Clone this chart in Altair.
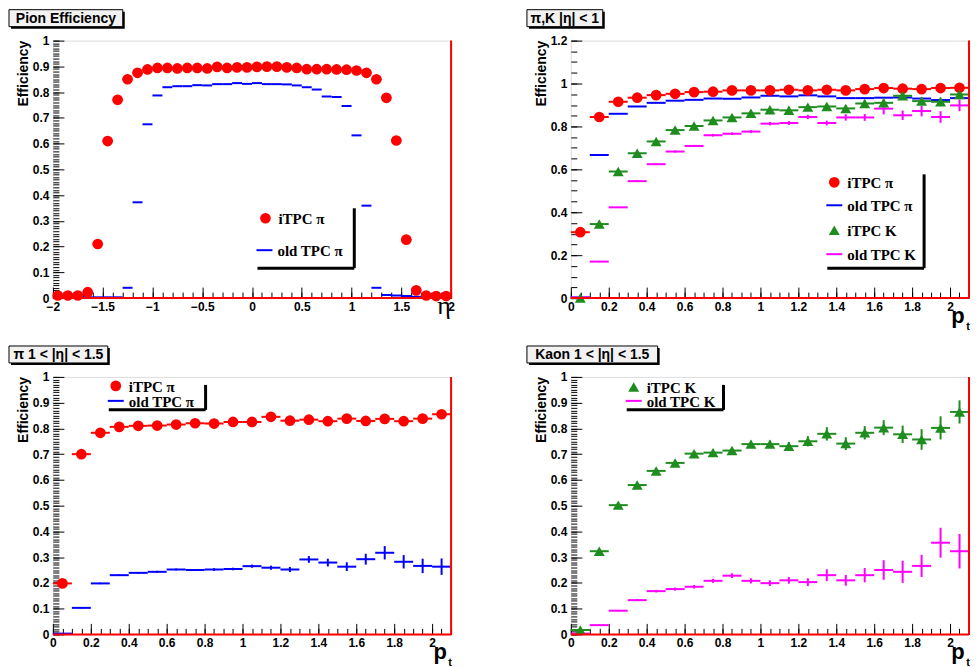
import altair as alt
import pandas as pd

FONT = "Liberation Sans"
SERIF = "Liberation Serif"
RED = "#ff0000"
BLUE = "#0000ff"
GREEN = "#1e8c1e"
MAGENTA = "#ff00ff"

# ---------------- data ----------------
eta = [-1.95, -1.85, -1.75, -1.65, -1.55, -1.45, -1.35, -1.25, -1.15, -1.05,
       -0.95, -0.85, -0.75, -0.65, -0.55, -0.45, -0.35, -0.25, -0.15, -0.05,
       0.05, 0.15, 0.25, 0.35, 0.45, 0.55, 0.65, 0.75, 0.85, 0.95,
       1.05, 1.15, 1.25, 1.35, 1.45, 1.55, 1.65, 1.75, 1.85, 1.95]
pt = [0.05, 0.15, 0.25, 0.35, 0.45, 0.55, 0.65, 0.75, 0.85, 0.95, 1.05,
      1.15, 1.25, 1.35, 1.45, 1.55, 1.65, 1.75, 1.85, 1.95, 2.05]

# Panel 1: pion efficiency vs eta
itpc_pi_eta = [0.010, 0.010, 0.010, 0.023, 0.210, 0.610, 0.770, 0.850, 0.875, 0.888,
               0.894, 0.894, 0.892, 0.894, 0.894, 0.892, 0.898, 0.894, 0.896, 0.896,
               0.898, 0.899, 0.899, 0.896, 0.894, 0.889, 0.889, 0.889, 0.888, 0.887,
               0.884, 0.875, 0.850, 0.778, 0.612, 0.227, 0.030, 0.010, 0.008, 0.008]
old_pi_eta = [0.003, 0.003, 0.003, 0.003, 0.003, 0.003, 0.003, 0.040, 0.372, 0.675,
              0.787, 0.819, 0.823, 0.823, 0.827, 0.826, 0.831, 0.831, 0.835, 0.832,
              0.835, 0.831, 0.831, 0.830, 0.826, 0.819, 0.810, 0.783, 0.781, 0.746,
              0.632, 0.359, 0.040, 0.012, 0.010, 0.008, 0.005, 0.003, 0.003, 0.003]

# Panel 2: pi, K |eta| < 1 vs pt
itpc_pi_pt = [0.307, 0.844, 0.915, 0.934, 0.946, 0.952, 0.960, 0.962, 0.968, 0.968, 0.968,
              0.971, 0.968, 0.971, 0.968, 0.974, 0.979, 0.976, 0.974, 0.979, 0.980]
old_pi_pt = [0.003, 0.667, 0.859, 0.893, 0.910, 0.920, 0.924, 0.930, 0.929, 0.935, 0.943,
             0.940, 0.945, 0.940, 0.932, 0.932, 0.934, 0.935, 0.930, 0.923, 0.932]
itpc_k_pt = [0.000, 0.345, 0.590, 0.675, 0.730, 0.783, 0.802, 0.828, 0.842, 0.861, 0.878,
             0.875, 0.890, 0.893, 0.884, 0.907, 0.910, 0.943, 0.918, 0.915, 0.949]
itpc_k_pt_err = [0.003, 0.005, 0.005, 0.005, 0.006, 0.006, 0.007, 0.007, 0.008, 0.009, 0.010,
                 0.011, 0.012, 0.013, 0.014, 0.015, 0.016, 0.018, 0.019, 0.020, 0.022]
old_k_pt = [0.003, 0.170, 0.423, 0.545, 0.624, 0.683, 0.709, 0.759, 0.766, 0.776, 0.813,
            0.816, 0.844, 0.816, 0.842, 0.842, 0.883, 0.852, 0.872, 0.844, 0.898]
old_k_pt_err = [0.002, 0.003, 0.003, 0.004, 0.004, 0.005, 0.005, 0.006, 0.006, 0.007, 0.008,
                0.009, 0.010, 0.011, 0.015, 0.016, 0.027, 0.022, 0.025, 0.027, 0.027]

# Panel 3: pi 1 < |eta| < 1.5
itpc_pi_fwd = [0.198, 0.700, 0.783, 0.806, 0.810, 0.811, 0.815, 0.820, 0.819, 0.825, 0.825,
               0.845, 0.830, 0.834, 0.828, 0.838, 0.829, 0.837, 0.828, 0.838, 0.855]
old_pi_fwd = [0.003, 0.103, 0.198, 0.230, 0.239, 0.243, 0.252, 0.250, 0.252, 0.254, 0.265,
              0.259, 0.252, 0.291, 0.279, 0.263, 0.292, 0.317, 0.282, 0.266, 0.263]
old_pi_fwd_err = [0.001, 0.002, 0.003, 0.003, 0.003, 0.004, 0.004, 0.004, 0.005, 0.005, 0.006,
                  0.008, 0.010, 0.013, 0.015, 0.017, 0.021, 0.026, 0.026, 0.028, 0.032]

# Panel 4: Kaon 1 < |eta| < 1.5
itpc_k_fwd = [0.017, 0.323, 0.502, 0.580, 0.635, 0.666, 0.702, 0.706, 0.714, 0.739, 0.739,
              0.731, 0.750, 0.779, 0.741, 0.783, 0.803, 0.777, 0.757, 0.802, 0.864]
itpc_k_fwd_err = [0.005, 0.008, 0.008, 0.008, 0.009, 0.010, 0.010, 0.011, 0.012, 0.013, 0.014,
                  0.016, 0.020, 0.026, 0.025, 0.026, 0.029, 0.034, 0.040, 0.045, 0.045]
old_k_fwd = [0.003, 0.036, 0.092, 0.133, 0.168, 0.176, 0.185, 0.208, 0.228, 0.208, 0.199,
             0.210, 0.203, 0.230, 0.210, 0.230, 0.250, 0.243, 0.266, 0.356, 0.323]
old_k_fwd_err = [0.001, 0.002, 0.003, 0.004, 0.005, 0.006, 0.007, 0.008, 0.009, 0.010, 0.011,
                 0.013, 0.015, 0.023, 0.021, 0.028, 0.038, 0.043, 0.043, 0.058, 0.067]

# tick values
eta_major = [-2, -1.5, -1, -0.5, 0, 0.5, 1, 1.5, 2]
eta_minor = [round(-2 + 0.1 * i, 2) for i in range(41)]
pt_major = [0, 0.2, 0.4, 0.6, 0.8, 1, 1.2, 1.4, 1.6, 1.8, 2]
pt_minor = [round(0.05 * i, 2) for i in range(43)]
eff_major = [0, 0.1, 0.2, 0.3, 0.4, 0.5, 0.6, 0.7, 0.8, 0.9, 1]
eff_minor = [round(0.01 * i, 2) for i in range(101)]
eff12_major = [0, 0.2, 0.4, 0.6, 0.8, 1, 1.2]
eff12_minor = [round(0.05 * i, 2) for i in range(25)]

SERIES = ["iTPC π", "old TPC π", "iTPC K", "old TPC K"]
SERIES_COLORS = [RED, BLUE, GREEN, MAGENTA]

HALF_BIN = 0.05
W, H = 399, 258
ONE = alt.Data(values=[{"k": 0}])


def make_df(xs, series, errors):
    rows = []
    for name, vals in series.items():
        errs = errors.get(name)
        for i, (x, y) in enumerate(zip(xs, vals)):
            e = errs[i] if errs is not None else None
            rows.append({"x": x, "y": y, "s": name,
                         "xlo": x - HALF_BIN, "xhi": x + HALF_BIN,
                         "ylo": (y - e) if e is not None else None,
                         "yhi": (y + e) if e is not None else None})
    return pd.DataFrame(rows)


def axis_major(orient, values, pad):
    return alt.Axis(values=values, orient=orient, tickSize=11, offset=-11, tickColor="black",
                    tickWidth=1, domain=False, grid=False, labelFont=FONT, labelFontWeight="bold",
                    labelFontSize=12, labelColor="black", labelPadding=pad, labelFlush=False,
                    labelOverlap=False, format="~g", title=None)


def axis_minor(orient, values):
    return alt.Axis(values=values, orient=orient, tickSize=6, offset=-6, tickColor="black",
                    tickWidth=1, domain=False, grid=False, labels=False, title=None)


def vtext(text, x, y, size, font=FONT, weight="bold", align="left", baseline="middle", angle=0):
    kw = dict(text=text, font=font, fontWeight=weight, fontSize=size, color="black",
              align=align, baseline=baseline)
    if angle:
        kw["angle"] = angle
    return alt.Chart(ONE).mark_text(**kw).encode(x=alt.value(x), y=alt.value(y))


def vrule(x, x2, y, y2, color, width):
    enc = dict(x=alt.value(x), y=alt.value(y))
    if x2 is not None:
        enc["x2"] = alt.value(x2)
    if y2 is not None:
        enc["y2"] = alt.value(y2)
    return alt.Chart(ONE).mark_rule(color=color, strokeWidth=width).encode(**enc)


def title_box(text, x1, x2, y1=-31, y2=-14):
    shadow = alt.Chart(ONE).mark_rect(color="black").encode(
        x=alt.value(x1 + 2), x2=alt.value(x2 + 2), y=alt.value(y1 + 2), y2=alt.value(y2 + 2))
    box = alt.Chart(ONE).mark_rect(fill="#f2f2f2", stroke="black", strokeWidth=1).encode(
        x=alt.value(x1), x2=alt.value(x2), y=alt.value(y1), y2=alt.value(y2))
    txt = vtext(text, (x1 + x2) / 2, (y1 + y2) / 2 + 1, 14, align="center")
    return [shadow, box, txt]


def legend(entries, sx1, sx2, sy1, sy2):
    out = []
    for kind, color, label, x, y in entries:
        if kind == "circle":
            out.append(alt.Chart(ONE).mark_circle(size=115, color=color, opacity=1).encode(
                x=alt.value(x), y=alt.value(y)))
        elif kind == "triangle":
            out.append(alt.Chart(ONE).mark_point(shape="triangle-up", filled=True, size=120,
                                                 color=color, opacity=1).encode(
                x=alt.value(x), y=alt.value(y)))
        else:
            out.append(vrule(x - 8, x + 8, y, None, color, 2))
        out.append(vtext(label, x + 13, y + 1, 15, font=SERIF, align="left"))
    out.append(vrule(sx2, None, sy1, sy2, "black", 3))
    out.append(vrule(sx1, sx2, sy2, None, "black", 3))
    return out


def panel(df, xdom, ydom, xmaj, xmin, ymaj, ymin, circ, tri, deco):
    xs = alt.Scale(domain=xdom, nice=False, zero=False)
    ys = alt.Scale(domain=ydom, nice=False, zero=False)
    color = alt.Color("s:N", scale=alt.Scale(domain=SERIES, range=SERIES_COLORS), legend=None)
    hbar = alt.Chart(df).mark_rule(strokeWidth=2).encode(
        x=alt.X("xlo:Q", scale=xs, axis=axis_major("bottom", xmaj, 3)),
        x2="xhi:Q",
        y=alt.Y("y:Q", scale=ys, axis=axis_major("left", ymaj, 4)),
        color=color)
    carrier = alt.Chart(df).mark_point(opacity=0).encode(
        x=alt.X("x:Q", scale=xs, axis=axis_minor("bottom", xmin)),
        y=alt.Y("y:Q", scale=ys, axis=axis_minor("left", ymin)))
    vbar = alt.Chart(df).transform_filter("isValid(datum.ylo)").mark_rule(strokeWidth=2).encode(
        x=alt.X("x:Q", scale=xs, axis=None),
        y=alt.Y("ylo:Q", scale=ys, axis=None),
        y2="yhi:Q",
        color=color)
    layers = [hbar, carrier, vbar]
    if circ:
        layers.append(alt.Chart(df).transform_filter(
            alt.FieldOneOfPredicate(field="s", oneOf=circ)).mark_circle(size=115, opacity=1).encode(
            x=alt.X("x:Q", scale=xs, axis=None), y=alt.Y("y:Q", scale=ys, axis=None), color=color))
    if tri:
        layers.append(alt.Chart(df).transform_filter(
            alt.FieldOneOfPredicate(field="s", oneOf=tri)).mark_point(
            shape="triangle-up", filled=True, size=120, opacity=1, strokeWidth=0).encode(
            x=alt.X("x:Q", scale=xs, axis=None), y=alt.Y("y:Q", scale=ys, axis=None), color=color))
    # ROOT frame: red right edge and red zero line
    layers.append(vrule(W, None, 0, H, RED, 2))
    layers.append(vrule(0, W, H, None, RED, 2))
    layers.append(vtext("Efficiency", -29, 0, 14, align="right", angle=270))
    layers.extend(deco)
    return alt.layer(*layers).resolve_axis(x="independent", y="independent").properties(
        width=W, height=H)


def pt_label():
    return [vtext("p", W - 11, H + 25, 22, align="center", baseline="alphabetic"),
            vtext("t", W - 1, H + 32, 11, align="center", baseline="alphabetic")]


# ---------------- panels ----------------
df1 = make_df(eta, {"iTPC π": itpc_pi_eta, "old TPC π": old_pi_eta}, {})
p1 = panel(df1, [-2, 2], [0, 1], eta_major, eta_minor, eff_major, eff_minor,
           ["iTPC π"], None,
           title_box("Pion Efficiency", -44, 70)
           + legend([("circle", RED, "iTPC π", 213, 178),
                     ("line", BLUE, "old TPC π", 212, 210)], 205, 302, 168, 228)
           + [vtext("η", W - 7, H + 16, 26, font=SERIF, weight="normal", align="center",
                    baseline="alphabetic")])

df2 = make_df(pt, {"old TPC π": old_pi_pt, "old TPC K": old_k_pt,
                   "iTPC K": itpc_k_pt, "iTPC π": itpc_pi_pt},
              {"iTPC K": itpc_k_pt_err, "old TPC K": old_k_pt_err})
p2 = panel(df2, [0, 2.1], [0, 1.2], pt_major, pt_minor, eff12_major, eff12_minor,
           ["iTPC π"], ["iTPC K"],
           title_box("π,K |η| < 1", -44, 32)
           + legend([("circle", RED, "iTPC π", 264, 142),
                     ("line", BLUE, "old TPC π", 264, 165),
                     ("triangle", GREEN, "iTPC K", 264, 190),
                     ("line", MAGENTA, "old TPC K", 264, 214)], 257, 354, 134, 228)
           + pt_label())

df3 = make_df(pt, {"old TPC π": old_pi_fwd, "iTPC π": itpc_pi_fwd},
              {"old TPC π": old_pi_fwd_err})
p3 = panel(df3, [0, 2.1], [0, 1], pt_major, pt_minor, eff_major, eff_minor,
           ["iTPC π"], None,
           title_box("π 1 < |η| < 1.5", -44, 55)
           + legend([("circle", RED, "iTPC π", 63, 9),
                     ("line", BLUE, "old TPC π", 63, 24)], 56, 153, 8, 33)
           + pt_label())

df4 = make_df(pt, {"old TPC K": old_k_fwd, "iTPC K": itpc_k_fwd},
              {"old TPC K": old_k_fwd_err, "iTPC K": itpc_k_fwd_err})
p4 = panel(df4, [0, 2.1], [0, 1], pt_major, pt_minor, eff_major, eff_minor,
           None, ["iTPC K"],
           title_box("Kaon 1 < |η| < 1.5", -44, 87)
           + legend([("triangle", GREEN, "iTPC K", 63, 10),
                     ("line", MAGENTA, "old TPC K", 63, 24)], 56, 153, 8, 33)
           + pt_label())

chart = alt.concat(p1, p2, p3, p4, columns=2, spacing={"row": 79, "column": 120},
                   bounds="flush").properties(padding=0).configure_view(
    stroke="#111111", strokeWidth=2).configure(background="white")

chart.save("out.html", embed_options={"renderer": "svg", "actions": False})
